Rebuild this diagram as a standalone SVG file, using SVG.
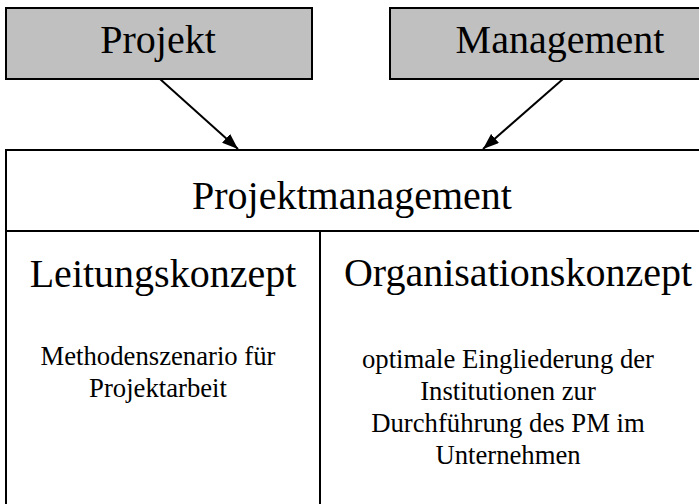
<svg xmlns="http://www.w3.org/2000/svg" width="699" height="504" viewBox="0 0 699 504">
<style>
.t{font-family:"Liberation Serif","Times New Roman",serif;fill:#000;text-anchor:middle}
.big{font-size:40px}
.small{font-size:26.7px}
.gbox{fill:#c0c0c0;stroke:#000;stroke-width:2}
.ln{stroke:#000;stroke-width:2;fill:none}
</style>
<defs>
<marker id="ah" viewBox="0 0 10 10" refX="10" refY="5" markerWidth="8" markerHeight="8" markerUnits="userSpaceOnUse" orient="auto">
<path d="M0,0 L10,5 L0,10 z" fill="#000"/>
</marker>
<marker id="arr" viewBox="0 0 16 12" refX="16" refY="6" markerWidth="16" markerHeight="12" markerUnits="userSpaceOnUse" orient="auto">
<path d="M0,0 L16,6 L0,12 z" fill="#000"/>
</marker>
</defs>
<rect width="699" height="504" fill="#fff"/>
<g id="projekt">
<rect class="gbox" x="6" y="8" width="306" height="71"/>
<text class="t big" x="158" y="53">Projekt</text>
</g>
<g id="management">
<rect class="gbox" x="390" y="8" width="340" height="71"/>
<text class="t big" x="560" y="53">Management</text>
</g>
<g id="projektmanagement">
<rect class="ln" x="6" y="150" width="740" height="400"/>
<line class="ln" x1="6" y1="231" x2="699" y2="231"/>
<text class="t big" x="352" y="209">Projektmanagement</text>
</g>
<g id="leitungskonzept">
<line class="ln" x1="320" y1="231" x2="320" y2="504"/>
<text class="t big" x="163" y="287">Leitungskonzept</text>
<text class="t small" x="158" y="365">Methodenszenario für</text>
<text class="t small" x="158" y="397">Projektarbeit</text>
</g>
<g id="organisationskonzept">
<text class="t big" x="518" y="286">Organisationskonzept</text>
<text class="t small" x="508" y="368">optimale Eingliederung der</text>
<text class="t small" x="508" y="400">Institutionen zur</text>
<text class="t small" x="508" y="432">Durchführung des PM im</text>
<text class="t small" x="508" y="464">Unternehmen</text>
</g>
<g id="connectors">
<line class="ln" x1="160" y1="79" x2="238" y2="149" marker-end="url(#arr)"/>
<line class="ln" x1="563" y1="79" x2="483" y2="149" marker-end="url(#arr)"/>
</g>
</svg>
